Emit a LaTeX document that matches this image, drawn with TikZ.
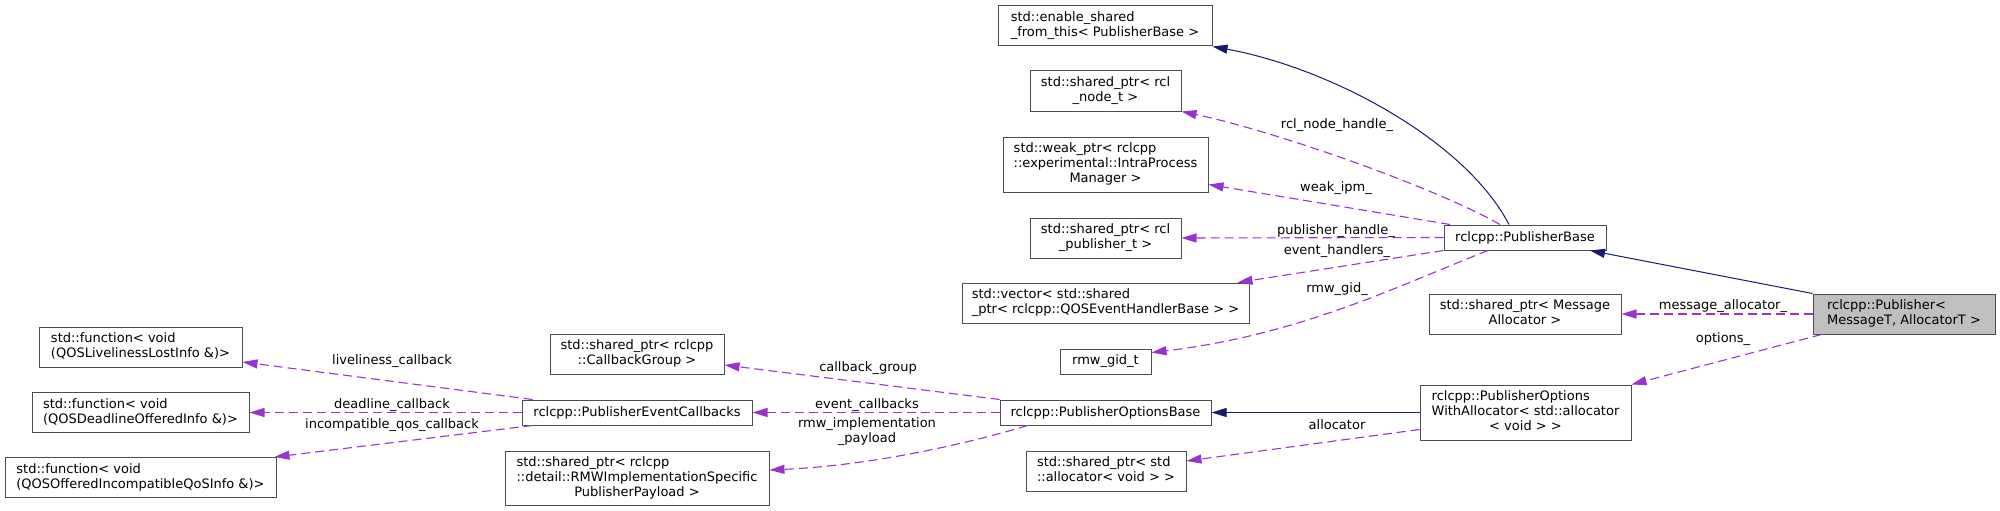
\documentclass[tikz,border=0pt]{standalone}
\usepackage{fontspec}
\setmainfont{DejaVu Sans}
\usetikzlibrary{arrows.meta}
\definecolor{inhcol}{HTML}{191970}
\definecolor{usecol}{HTML}{9A32CD}
\definecolor{boxcol}{HTML}{4D4D4D}
\definecolor{pubfill}{HTML}{BFBFBF}
\newcommand\dlab[2]{\begin{tabular}{@{}l@{}}#1\multicolumn{1}{@{}c@{}}{#2}\end{tabular}}
\begin{document}
\begin{tikzpicture}[x=1pt,y=-1pt,
  cls/.style args={#1/#2}{draw=boxcol, line width=1pt, fill=white, inner sep=0pt,
     minimum width=#1pt, minimum height=#2pt, font=\fontsize{13}{15}\selectfont},
  inh/.style={draw=inhcol, line width=1pt, -{Triangle[length=15pt,width=9pt]}},
  usee/.style={draw=usecol, line width=1.1pt, dash pattern=on 9pt off 5pt,
     -{Triangle[length=15pt,width=9pt]}},
  elab/.style={font=\fontsize{13}{15}\selectfont, inner sep=0pt, align=center}]
\fill[white] (0,0) rectangle (2000,511);
\useasboundingbox (0,0) rectangle (2000,511);

% nodes
\node[cls=182/40, fill=pubfill] (pub) at (1904,314) {\dlab{rclcpp::Publisher<\\}{ MessageT, AllocatorT >}};
\node[cls=162/25] (pbase) at (1525,237.5) {rclcpp::PublisherBase};
\node[cls=214/40] (esft) at (1105,26) {\dlab{std::enable\_shared\\}{\_from\_this< PublisherBase >}};
\node[cls=151/40] (rclnode) at (1105.5,91) {\dlab{std::shared\_ptr< rcl\\}{\_node\_t >}};
\node[cls=205/55] (weakipm) at (1105.5,164.5) {\dlab{std::weak\_ptr< rclcpp\\::experimental::IntraProcess\\}{Manager >}};
\node[cls=151/40] (rclpub) at (1105.5,238) {\dlab{std::shared\_ptr< rcl\\}{\_publisher\_t >}};
\node[cls=287/40] (vec) at (1105.5,303) {\dlab{std::vector< std::shared\\}{\_ptr< rclcpp::QOSEventHandlerBase > >}};
\node[cls=91/25] (gid) at (1105.5,361.5) {rmw\_gid\_t};
\node[cls=192/40] (msgalloc) at (1525,314) {\dlab{std::shared\_ptr< Message\\}{Allocator >}};
\node[cls=211/55] (pubopt) at (1525.5,412.5) {\dlab{rclcpp::PublisherOptions\\WithAllocator< std::allocator\\}{< void > >}};
\node[cls=211/25] (optbase) at (1105.5,412.5) {rclcpp::PublisherOptionsBase};
\node[cls=160/40] (stdalloc) at (1106,471) {\dlab{std::shared\_ptr< std\\}{::allocator< void > >}};
\node[cls=174/40] (cbgroup) at (637,354) {\dlab{std::shared\_ptr< rclcpp\\}{::CallbackGroup >}};
\node[cls=230/25] (evcb) at (637,412.5) {rclcpp::PublisherEventCallbacks};
\node[cls=264/54] (rmwpl) at (637,478) {\dlab{std::shared\_ptr< rclcpp\\::detail::RMWImplementationSpecific\\}{PublisherPayload >}};
\node[cls=203/40] (fnlive) at (140.5,347) {\dlab{std::function< void\\}{(QOSLivelinessLostInfo \&)>}};
\node[cls=217/40] (fndead) at (140.5,412.5) {\dlab{std::function< void\\}{(QOSDeadlineOfferedInfo \&)>}};
\node[cls=271/40] (fnincomp) at (140.5,477.5) {\dlab{std::function< void\\}{(QOSOfferedIncompatibleQoSInfo \&)>}};

% inheritance edges
\draw[inh] ([xshift=-16pt]pbase.north) .. controls (1465,140) and (1330,68) .. (esft.south east);
\draw[inh] (pub.north west) -- ([xshift=65pt]pbase.south);
\draw[inh] (pubopt.west) -- (optbase.east);

% usage edges
\draw[usee] ([xshift=-25pt]pbase.north) .. controls (1430,185) and (1270,130) .. (rclnode.south east);
\draw[usee] ([xshift=-75pt]pbase.north) -- ([yshift=8pt]weakipm.south east);
\draw[usee] (pbase.west) -- (rclpub.east);
\draw[usee] (pbase.south west) -- ([xshift=-12pt]vec.north east);
\draw[usee] ([xshift=-37pt]pbase.south) .. controls (1400,285) and (1300,335) .. ([yshift=9pt]gid.east);
\draw[usee] (pub.west) -- (msgalloc.east);
\draw[usee] ([xshift=9pt]pub.south west) -- (pubopt.north east);
\draw[usee] ([yshift=-17pt]pubopt.west) -- ([yshift=10pt]stdalloc.east);
\draw[usee] (optbase.north west) -- ([yshift=-11pt]cbgroup.east);
\draw[usee] (optbase.west) -- (evcb.east);
\draw[usee] ([xshift=-78pt]optbase.south) .. controls (980,440) and (880,465) .. ([yshift=8pt]rmwpl.east);
\draw[usee] ([xshift=11pt]evcb.north west) -- ([yshift=-15pt]fnlive.east);
\draw[usee] (evcb.west) -- (fndead.east);
\draw[usee] ([xshift=11pt]evcb.south west) -- ([xshift=-2pt]fnincomp.north east);

% edge labels
\node[elab] (l1) at (1337,125) {rcl\_node\_handle\_};
\node[elab] (l2) at (1336,188) {weak\_ipm\_};
\node[elab] (l3) at (1336,231) {publisher\_handle\_};
\node[elab] (l4) at (1337,251) {event\_handlers\_};
\node[elab] (l5) at (1337,289) {rmw\_gid\_};
\node[elab] (l6) at (1723,306) {message\_allocator\_};
\node[elab] (l7) at (1723,339) {options\_};
\node[elab] (l8) at (1337,425) {allocator};
\node[elab] (l9) at (868,368) {callback\_group};
\node[elab] (l10) at (867,405) {event\_callbacks};
\node[elab] (l11) at (867,432) {rmw\_implementation\\\_payload};
\node[elab] (l12) at (392,361) {liveliness\_callback};
\node[elab] (l13) at (392,405) {deadline\_callback};
\node[elab] (l14) at (392,425) {incompatible\_qos\_callback};
\end{tikzpicture}
\end{document}
